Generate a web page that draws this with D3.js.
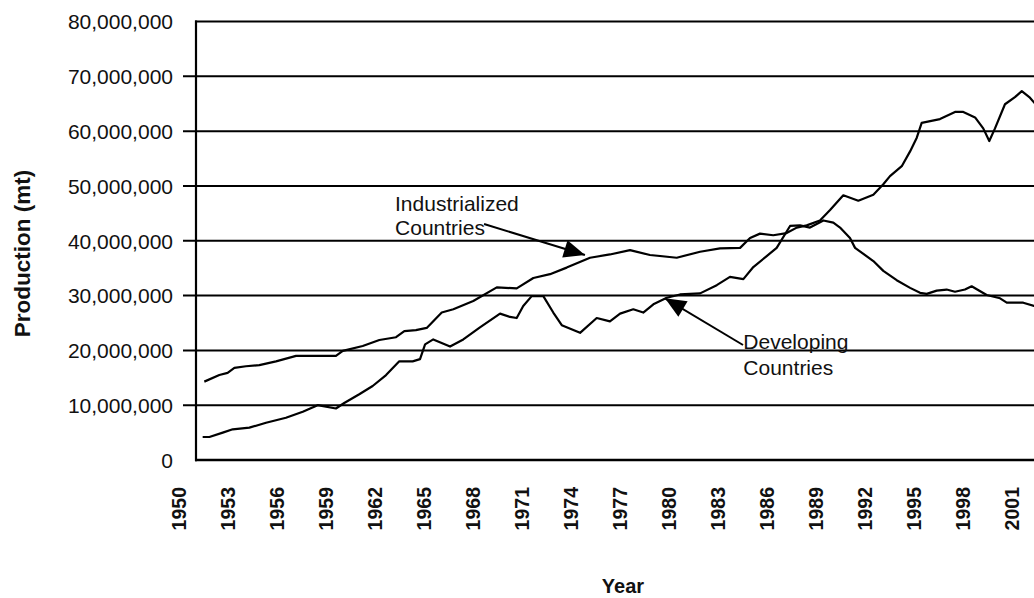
<!DOCTYPE html>
<html>
<head>
<meta charset="utf-8">
<script src="https://cdn.jsdelivr.net/npm/d3@7/dist/d3.min.js"></script>
<style>
  html, body { margin: 0; padding: 0; background: #fff; }
  svg { display: block; }
  text { font-family: "Liberation Sans", Arial, sans-serif; fill: #111; }
</style>
</head>
<body>
<svg id="chart" width="1034" height="598"></svg>
<script>
// ---- Data (values in millions of metric tonnes) ----
const industrializedYears = [1951.58,1952.50,1953.01,1953.42,1954.13,1954.95,1955.97,1957.20,1959.64,1960.06,1961.28,1962.30,1963.32,1963.83,1964.54,1965.20,1966.12,1966.83,1968.05,1969.49,1970.71,1971.73,1972.75,1973.77,1975.20,1976.42,1977.65,1978.87,1980.51,1981.94,1983.16,1984.39,1985.00,1985.61,1986.42,1987.24,1987.86,1988.47,1989.28,1989.90,1990.71,1991.63,1992.55,1993.16,1993.57,1994.29,1994.80,1995.21,1995.51,1996.63,1997.55,1998.06,1998.78,1999.28,1999.65,2000.00,2000.61,2001.22,2001.64,2002.14,2002.76];
const industrializedValues = [14.3,15.5,15.9,16.8,17.1,17.3,18.0,19.0,19.0,19.9,20.8,21.9,22.4,23.5,23.7,24.1,26.9,27.5,29.0,31.5,31.3,33.2,33.9,35.1,36.9,37.5,38.3,37.4,36.9,38.0,38.6,38.7,40.5,41.3,41.0,41.4,42.4,42.8,43.7,45.6,48.3,47.3,48.4,50.3,51.8,53.6,56.3,58.8,61.5,62.2,63.5,63.5,62.5,60.5,58.2,60.5,64.9,66.2,67.3,66.1,64.0];

const developingYears = [1951.48,1951.89,1952.71,1953.32,1954.34,1955.36,1956.58,1957.61,1958.52,1959.64,1960.15,1961.07,1961.89,1962.71,1963.52,1964.34,1964.79,1965.10,1965.60,1966.63,1967.44,1968.46,1969.69,1970.30,1970.71,1971.11,1971.63,1972.34,1972.95,1973.47,1974.59,1975.61,1976.42,1977.04,1977.85,1978.46,1979.08,1979.90,1980.71,1981.94,1982.96,1983.77,1984.59,1985.20,1986.02,1986.63,1987.45,1988.06,1988.67,1989.49,1990.10,1990.51,1991.12,1991.43,1992.55,1993.16,1993.98,1994.80,1995.41,1995.82,1996.43,1997.04,1997.55,1998.16,1998.57,1999.49,2000.31,2000.72,2001.73,2002.39,2003.00];
const developingValues = [4.2,4.2,5.0,5.6,5.9,6.8,7.7,8.8,10.0,9.4,10.4,12.0,13.5,15.5,18.0,18.0,18.4,21.1,22.0,20.7,22.0,24.2,26.7,26.1,25.9,28.1,29.9,29.9,26.9,24.6,23.2,25.9,25.3,26.7,27.5,26.9,28.4,29.6,30.2,30.4,31.9,33.4,33.0,35.2,37.2,38.7,42.7,42.8,42.4,43.7,43.3,42.4,40.5,38.7,36.3,34.5,32.8,31.4,30.5,30.3,30.9,31.1,30.7,31.1,31.7,30.1,29.5,28.7,28.7,28.1,27.8];

const UNIT = 1e6;
const xTickYears = [1950,1953,1956,1959,1962,1965,1968,1971,1974,1977,1980,1983,1986,1989,1992,1995,1998,2001];
const yTickValues = [0,10000000,20000000,30000000,40000000,50000000,60000000,70000000,80000000];

const annotationLabels = [["Industrialized","Countries"],["Developing","Countries"]];
const annotationTextPos = [[1963.26,45.48],[1984.59,20.25]];   // year, value (millions)
const annotationTail   = [[1968.71,43.06],[1984.57,20.98]];
const annotationTip    = [[1974.89,37.40],[1979.79,29.50]];

const yTitle = "Production (mt)";
const xTitle = "Year";

// ---- Layout ----
const W = 1034, H = 598;
const frameLeft = 196, frameRight = W;
const svg = d3.select("#chart");

const x = d3.scaleLinear().domain([1950, 2001]).range([178.5, 178.5 + 16.33 * 51]);
const y = d3.scaleLinear().domain([0, 80000000]).range([460, 21.5]);

// clip for data
svg.append("defs").append("clipPath").attr("id", "plotClip")
  .append("rect").attr("x", frameLeft).attr("y", 0).attr("width", frameRight - frameLeft).attr("height", H);

svg.select("defs").append("marker")
  .attr("id", "arrow")
  .attr("markerUnits", "userSpaceOnUse")
  .attr("viewBox", "-22 -10 24 20")
  .attr("refX", 0).attr("refY", 0)
  .attr("markerWidth", 24).attr("markerHeight", 20)
  .attr("orient", "auto")
  .append("path").attr("d", "M0,0 L-21,-9 L-21,9 Z").attr("fill", "#000");

// gridlines + ticks
const grid = svg.append("g");
grid.selectAll("line").data(yTickValues).join("line")
  .attr("x1", d => (d === 0 || d === 80000000) ? frameLeft - 1 : frameLeft - 13)
  .attr("x2", frameRight)
  .attr("y1", d => y(d)).attr("y2", d => y(d))
  .attr("stroke", "#000")
  .attr("stroke-width", d => d === 0 ? 2.5 : 2);

// left frame line
svg.append("line")
  .attr("x1", frameLeft).attr("x2", frameLeft)
  .attr("y1", y(80000000) - 1).attr("y2", y(0) + 1.2)
  .attr("stroke", "#000").attr("stroke-width", 2.2);

// Y axis labels
const yAxis = svg.append("g").attr("transform", `translate(${frameLeft},0)`)
  .call(d3.axisLeft(y).tickValues(yTickValues).tickSize(0).tickPadding(23).tickFormat(d3.format(",")));
yAxis.select(".domain").remove();
yAxis.selectAll("text")
  .style("font-family", '"Liberation Sans", Arial, sans-serif')
  .style("font-size", "21px").attr("fill", "#111").attr("dy", "0.35em");

// X axis labels
const xAxis = svg.append("g").attr("transform", `translate(0,${y(0)})`)
  .call(d3.axisBottom(x).tickValues(xTickYears).tickSize(0).tickFormat(d3.format("d")));
xAxis.select(".domain").remove();
xAxis.selectAll("text")
  .attr("transform", "rotate(-90)")
  .attr("text-anchor", "end")
  .attr("x", -27).attr("y", 0).attr("dy", "0.36em")
  .style("font-family", '"Liberation Sans", Arial, sans-serif')
  .style("font-size", "19.5px").style("font-weight", "bold").attr("fill", "#111");

// Lines
const line = d3.line().x(d => x(d[0])).y(d => y(d[1] * UNIT));
const series = [
  d3.zip(industrializedYears, industrializedValues),
  d3.zip(developingYears, developingValues)
];
svg.append("g").attr("clip-path", "url(#plotClip)")
  .selectAll("path").data(series).join("path")
  .attr("d", line)
  .attr("fill", "none").attr("stroke", "#000")
  .attr("stroke-width", 2.2).attr("stroke-linejoin", "round");

// Annotations
const ann = svg.append("g");
annotationLabels.forEach((lines, i) => {
  const tx = x(annotationTextPos[i][0]), ty = y(annotationTextPos[i][1] * UNIT);
  const t = ann.append("text")
    .attr("x", tx).attr("y", ty)
    .style("font-size", "21px");
  lines.forEach((s, j) => {
    t.append("tspan").attr("x", tx).attr("dy", j === 0 ? 0 : (i === 0 ? 24.5 : 26)).text(s);
  });
  ann.append("line")
    .attr("x1", x(annotationTail[i][0])).attr("y1", y(annotationTail[i][1] * UNIT))
    .attr("x2", x(annotationTip[i][0])).attr("y2", y(annotationTip[i][1] * UNIT))
    .attr("stroke", "#000").attr("stroke-width", 2)
    .attr("marker-end", "url(#arrow)");
});

// Titles
svg.append("text")
  .attr("transform", "translate(30,253.5) rotate(-90)")
  .attr("text-anchor", "middle")
  .style("font-size", "22.5px").style("font-weight", "bold")
  .text(yTitle);

svg.append("text")
  .attr("x", 623).attr("y", 593)
  .attr("text-anchor", "middle")
  .style("font-size", "20px").style("font-weight", "bold")
  .text(xTitle);
</script>
</body>
</html>
